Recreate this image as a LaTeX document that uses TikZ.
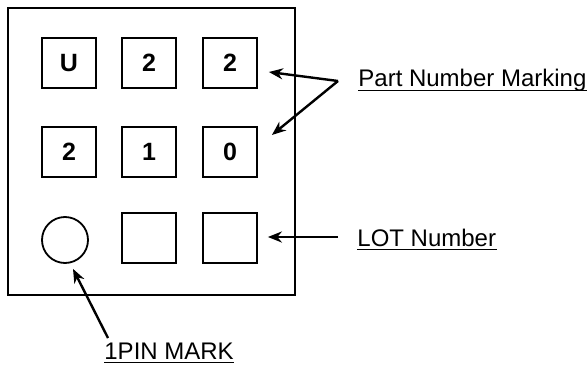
\documentclass[tikz,border=0pt]{standalone}
\usepackage{fontspec}
\setmainfont{Liberation Sans}
\usetikzlibrary{arrows.meta,positioning,shapes}
\tikzset{
    pad/.style={
                draw=black,
                line width=0.9pt,
                minimum width=27pt,
                minimum height=25pt,
                inner sep=0pt,
                font=\fontsize{12.5}{14}\selectfont\bfseries
            },
        pinmark/.style={
                draw=black,
                circle,
                line width=0.9pt,
                minimum size=23pt,
                inner sep=0pt
            },
        callout/.style={
                inner sep=0pt,
                anchor=base west,
                font=\fontsize{12}{14}\selectfont
            },
        pointer/.style={
                line width=1.2pt,
                -{Stealth[length=7pt,width=5.5pt]}
            },
        underbar/.style={line width=0.8pt},
}

\begin{document}
\begin{tikzpicture}[x=0.5pt,y=-0.5pt]
  \useasboundingbox (0,0) rectangle (588,369);
  % Package outline
  \draw[line width=1.1pt] (8,8) rectangle (295,295);
  % Marking pads
  \node[pad] (c11) at (69,63) {U};
  \node[pad] (c12) at (149,63) {2};
  \node[pad] (c13) at (230,63) {2};
  \node[pad] (c21) at (69,152) {2};
  \node[pad] (c22) at (149,152) {1};
  \node[pad] (c23) at (230,152) {0};
  \node[pinmark] (pin) at (65,240) {};
  \node[pad] (c32) at (149,238) {};
  \node[pad] (c33) at (230,238) {};
  % Labels
  \node[callout] (pnm) at (358,87) {Part Number Marking};
  \node[callout] (lot) at (357,246) {LOT Number};
  \node[callout] (onepin) at (104,359) {1PIN MARK};
  \foreach \lbl in {pnm,lot,onepin}
    \draw[underbar] ([yshift=-1.8pt]\lbl.base west) -- ([yshift=-1.8pt]\lbl.base east);
  % Pointers
  \coordinate (pnmfork) at (338,81);
  \coordinate (lotstart) at (338,237);
  \coordinate (pinstart) at (108,338);
  \draw[pointer] (pnmfork) -- ([shift={(11,9)}]c13.east);
  \draw[pointer] (pnmfork) -- ([shift={(14,-17)}]c23.east);
  \draw[pointer] (lotstart) -- ([shift={(10,-1)}]c33.east);
  \draw[pointer] (pinstart) -- ([shift={(8,5)}]pin.south);
\end{tikzpicture}
\end{document}
